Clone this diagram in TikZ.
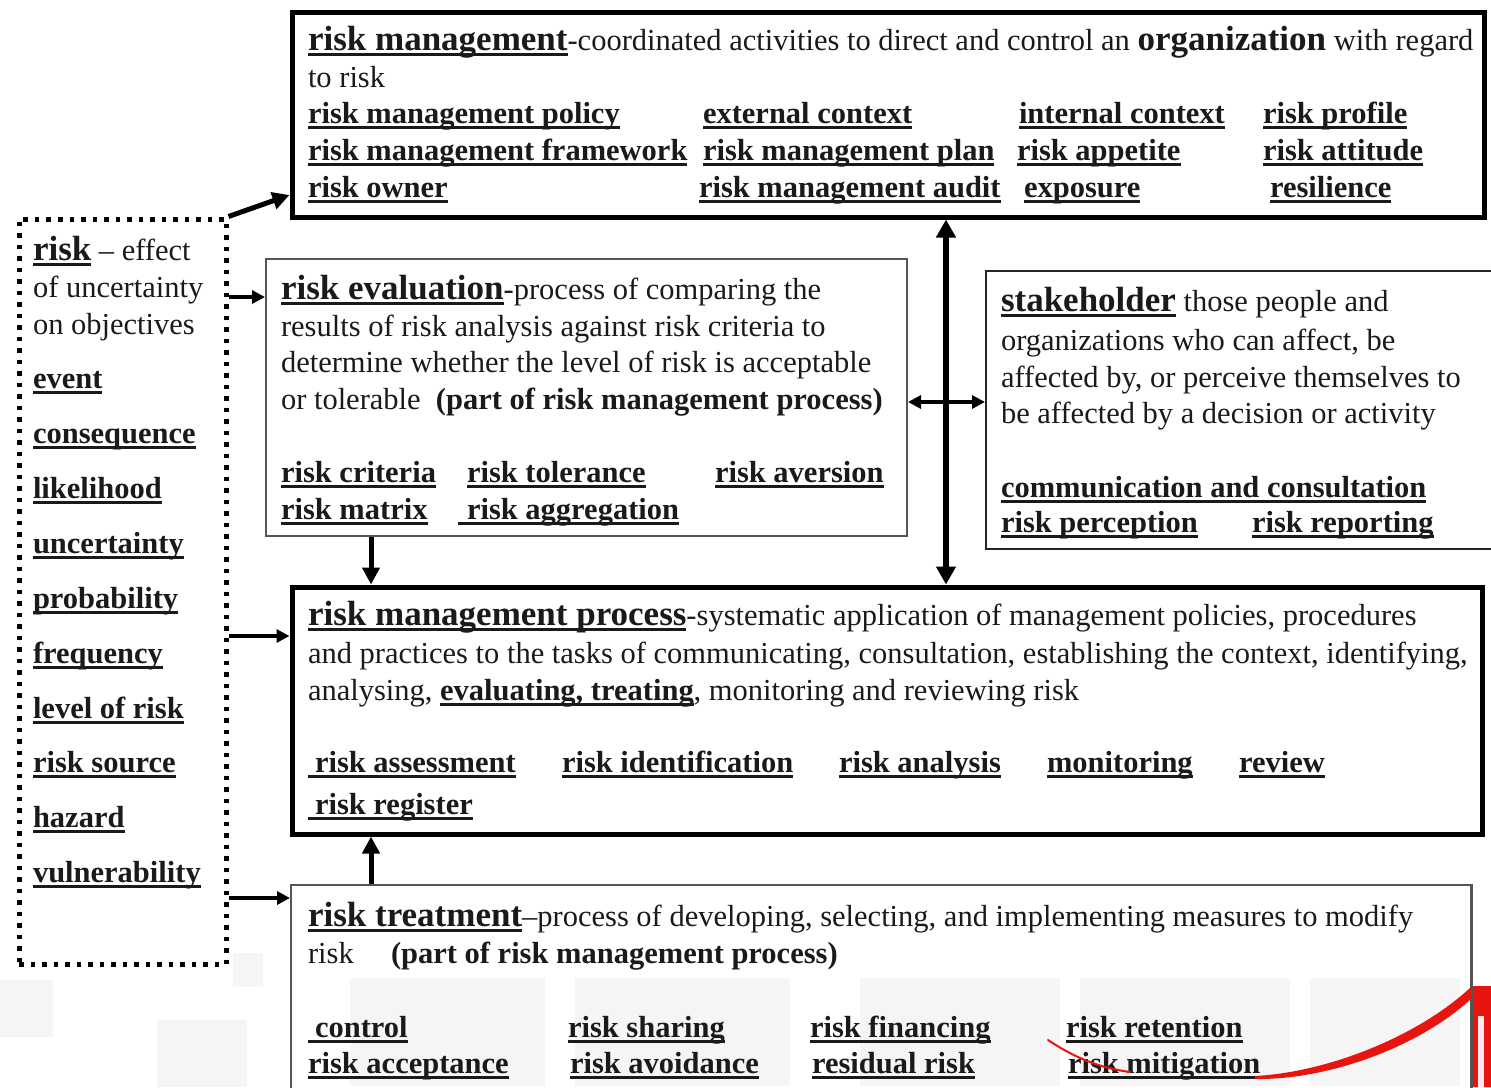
\documentclass[tikz,border=0pt]{standalone}
\usepackage{fontspec}
\setmainfont{Liberation Serif}
\usetikzlibrary{arrows.meta}
\newcommand\bodyf{\fontsize{30.5pt}{37pt}\selectfont}
\newcommand\headf{\fontsize{35pt}{37pt}\selectfont\bfseries}
\newcommand\ulx[1]{\setbox0\hbox{#1}\rlap{\rule[-5.5pt]{\wd0}{2.4pt}}\box0\relax}
\newcommand\hd[1]{\ulx{\headf #1}}
\newcommand\tm[1]{\ulx{\bfseries #1}}
\definecolor{ink}{HTML}{1A1A1A}
\definecolor{thinbox}{HTML}{555555}
\definecolor{slidered}{HTML}{E8140F}
\begin{document}
\begin{tikzpicture}[x=1pt,y=-1pt,
  txt/.style={anchor=base west,inner sep=0pt,outer sep=0pt,font=\bodyf,text=ink},
  thickbox/.style={draw=black,line width=5pt,inner sep=0pt,fill=white},
  thinboxst/.style={draw=thinbox,line width=2pt,inner sep=0pt,fill=white},
  dotbox/.style={draw=black,line width=5pt,dash pattern=on 4.5pt off 7pt,inner sep=0pt},
  bigarr/.style={line width=5pt,-{Triangle[length=17pt,width=17pt]}},
  midarr/.style={line width=3.5pt,-{Triangle[length=13pt,width=13pt]}},
  dblbig/.style={line width=6pt,{Triangle[length=18pt,width=19pt]}-{Triangle[length=18pt,width=19pt]}},
  dblmid/.style={line width=3.5pt,{Triangle[length=13pt,width=13pt]}-{Triangle[length=13pt,width=13pt]}},
  faint/.style={fill=black!4,draw=none}
]
\useasboundingbox (0,0) rectangle (1491,1087);
\fill[white] (0,0) rectangle (1491,1087);
% faint slide background blocks
\fill[faint] (0,980) rectangle (53,1037);
\fill[faint] (157,1020) rectangle (247,1087);
\fill[faint] (233,953) rectangle (263,987);

% boxes
\node[thickbox,minimum width=1192pt,minimum height=205pt] (rm) at (888,114.5) {};
\node[thinboxst,minimum width=641pt,minimum height=277pt] (ev) at (586.5,397.5) {};
\node[thinboxst,draw=black!85,minimum width=514pt,minimum height=278pt] (sh) at (1243,410) {};
\node[thickbox,minimum width=1190pt,minimum height=247pt] (rmp) at (887,710.5) {};
\node[thinboxst,minimum width=1180pt,minimum height=215pt] (rt) at (881,992.5) {};
\node[dotbox,minimum width=207pt,minimum height=745pt] (dots) at (122.5,591.5) {};

% faint blocks inside treatment box
\fill[faint] (350,978) rectangle (545,1086);
\fill[faint] (575,978) rectangle (790,1086);
\fill[faint] (860,978) rectangle (1060,1086);
\fill[faint] (1080,978) rectangle (1290,1086);
\fill[faint] (1310,978) rectangle (1460,1086);

% right-edge red element
\fill[slidered] (1473,986) rectangle (1491,1087);
\fill[white!92!red] (1478,1016) rectangle (1484,1087);
\draw[thinbox,line width=2pt] (rt.north east) -- ++(0,220);

% arrows
\draw[bigarr] (dots.north east) -- (rm.west |- 0,195);
\draw[midarr] (dots.east |- 0,297) -- (ev.west |- 0,297);
\draw[midarr] (dots.east |- 0,636) -- (rmp.west |- 0,636);
\draw[midarr] (dots.east |- 0,898) -- (rt.west |- 0,898);
\draw[bigarr] (ev.south -| 371,0) -- (rmp.north -| 371,0);
\draw[bigarr] (rt.north -| 371,0) -- (rmp.south -| 371,0);
\draw[dblbig] (rm.south -| 946,0) -- (rmp.north -| 946,0);
\draw[dblmid] (ev.east |- 0,402) -- (sh.west |- 0,402);

% risk management box
\node[txt] (t1a) at (308,50) {\hd{risk management}-coordinated activities to direct and control an {\headf organization} with regard};
\node[txt] (t1b) at (308,87) {to risk};
\node[txt] (t1c) at (308,123) {\tm{risk management policy}};
\node[txt] (t1d) at (703,123) {\tm{external context}};
\node[txt] (t1e) at (1019,123) {\tm{internal context}};
\node[txt] (t1f) at (1263,123) {\tm{risk profile}};
\node[txt] (t1g) at (308,160) {\tm{risk management framework}};
\node[txt] (t1h) at (703,160) {\tm{risk management plan}};
\node[txt] (t1i) at (1017,160) {\tm{risk appetite}};
\node[txt] (t1j) at (1263,160) {\tm{risk attitude}};
\node[txt] (t1k) at (308,197) {\tm{risk owner}};
\node[txt] (t1l) at (699,197) {\tm{risk management audit}};
\node[txt] (t1m) at (1024,197) {\tm{exposure}};
\node[txt] (t1n) at (1270,197) {\tm{resilience}};

% risk evaluation box
\node[txt] (t2a) at (281,299) {\hd{risk evaluation}-process of comparing the};
\node[txt] (t2b) at (281,336) {results of risk analysis against risk criteria to};
\node[txt] (t2c) at (281,372) {determine whether the level of risk is acceptable};
\node[txt] (t2d) at (281,409) {or tolerable\ \ {\bfseries (part of risk management process)}};
\node[txt] (t2e) at (281,482) {\tm{risk criteria}};
\node[txt] (t2f) at (467,482) {\tm{risk tolerance}};
\node[txt] (t2g) at (715,482) {\tm{risk aversion}};
\node[txt] (t2h) at (281,519) {\tm{risk matrix}};
\node[txt] (t2i) at (458,519) {\tm{\hspace{9pt}risk aggregation}};

% stakeholder box
\node[txt] (t3a) at (1001,311) {\hd{stakeholder} those people and};
\node[txt] (t3b) at (1001,350) {organizations who can affect, be};
\node[txt] (t3c) at (1001,387) {affected by, or perceive themselves to};
\node[txt] (t3d) at (1001,423) {be affected by a decision or activity};
\node[txt] (t3e) at (1001,497) {\tm{communication and consultation}};
\node[txt] (t3f) at (1001,532) {\tm{risk perception}};
\node[txt] (t3g) at (1252,532) {\tm{risk reporting}};

% risk management process box
\node[txt] (t4a) at (308,625) {\hd{risk management process}-systematic application of management policies, procedures};
\node[txt] (t4b) at (308,663) {and practices to the tasks of communicating, consultation, establishing the context, identifying,};
\node[txt] (t4c) at (308,700) {analysing, \tm{evaluating, treating}, monitoring and reviewing risk};
\node[txt] (t4d) at (308,772) {\tm{\hspace{7pt}risk assessment}};
\node[txt] (t4e) at (562,772) {\tm{risk identification}};
\node[txt] (t4f) at (839,772) {\tm{risk analysis}};
\node[txt] (t4g) at (1047,772) {\tm{monitoring}};
\node[txt] (t4h) at (1239,772) {\tm{review}};
\node[txt] (t4i) at (308,814) {\tm{\hspace{7pt}risk register}};

% risk treatment box
\node[txt] (t5a) at (308,926) {\hd{risk treatment}–process of developing, selecting, and implementing measures to modify};
\node[txt] (t5b) at (308,963) {risk};
\node[txt] (t5c) at (391,963) {\bfseries (part of risk management process)};
\node[txt] (t5d) at (308,1037) {\tm{\hspace{7pt}control}};
\node[txt] (t5e) at (568,1037) {\tm{risk sharing}};
\node[txt] (t5f) at (810,1037) {\tm{risk financing}};
\node[txt] (t5g) at (1066,1037) {\tm{risk retention}};
\node[txt] (t5h) at (308,1073) {\tm{risk acceptance}};
\node[txt] (t5i) at (570,1073) {\tm{risk avoidance}};
\node[txt] (t5j) at (812,1073) {\tm{residual risk}};
\node[txt] (t5k) at (1068,1073) {\tm{risk mitigation}};

% left dotted box
\node[txt] (l0) at (33,260) {\hd{risk} – effect};
\node[txt] (l1) at (33,297) {of uncertainty};
\node[txt] (l2) at (33,334) {on objectives};
\node[txt] (l3) at (33,388) {\tm{event}};
\node[txt] (l4) at (33,443) {\tm{consequence}};
\node[txt] (l5) at (33,498) {\tm{likelihood}};
\node[txt] (l6) at (33,553) {\tm{uncertainty}};
\node[txt] (l7) at (33,608) {\tm{probability}};
\node[txt] (l8) at (33,663) {\tm{frequency}};
\node[txt] (l9) at (33,718) {\tm{level of risk}};
\node[txt] (l10) at (33,772) {\tm{risk source}};
\node[txt] (l11) at (33,827) {\tm{hazard}};
\node[txt] (l12) at (33,882) {\tm{vulnerability}};

% red decorative stroke
\draw[slidered,line width=2pt,line cap=round] (1048,1040) .. controls (1075,1058) and (1100,1068) .. (1130,1072);
\fill[slidered] (1255,1076) .. controls (1330,1072) and (1420,1035) .. (1471,987) -- (1471,999) .. controls (1420,1046) and (1330,1080) .. (1255,1079) -- cycle;
\end{tikzpicture}
\end{document}
